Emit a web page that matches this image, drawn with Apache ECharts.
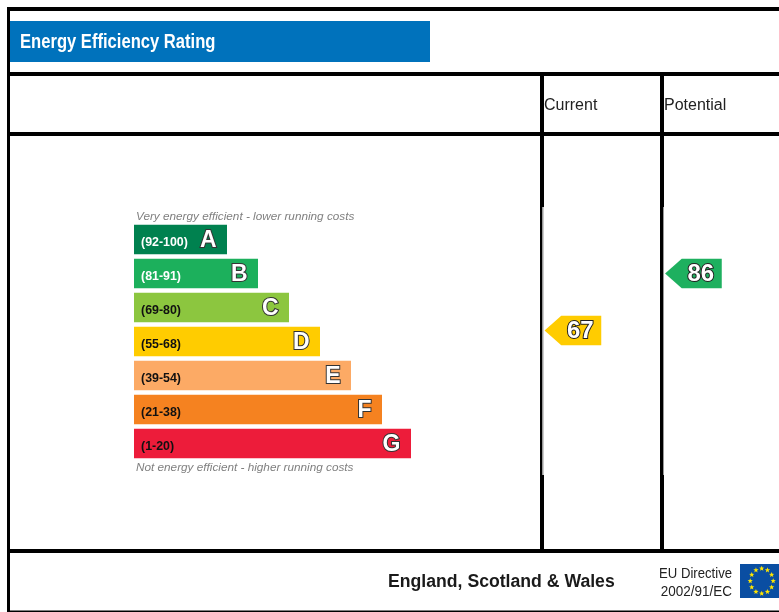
<!DOCTYPE html>
<html>
<head>
<meta charset="utf-8">
<title>Energy Efficiency Rating</title>
<script src="https://cdn.jsdelivr.net/npm/echarts@6/dist/echarts.min.js"></script>
<style>
html, body { margin: 0; padding: 0; background: #fff; }
#main { width: 779px; height: 612px; }
</style>
</head>
<body>
<div id="main"></div>
<script>
// rating bands, top to bottom
var bandRanges = ['(92-100)', '(81-91)', '(69-80)', '(55-68)', '(39-54)', '(21-38)', '(1-20)'];
var bandLetters = ['A', 'B', 'C', 'D', 'E', 'F', 'G'];
var bandLengths = [93, 124, 155, 186, 217, 248, 277];
var columns = ['Current', 'Potential'];
var ratings = [67, 86];

var bandColors = ['#00814f', '#1cb05c', '#8cc63f', '#ffcc00', '#fcaa65', '#f58220', '#ed1c3a'];
var rangeColors = ['#fff', '#fff', '#111', '#111', '#111', '#111', '#111'];
var ratingColors = ['#ffcc00', '#1eb05f'];

var FONT = '"Liberation Sans", Arial, sans-serif';

function line(x, y, w, h, color) {
  return { type: 'rect', shape: { x: x, y: y, width: w, height: h }, style: { fill: color || '#000' }, silent: true };
}
function label(text, x, y, font, color, align, sx) {
  return {
    type: 'text', x: x, y: y, scaleX: sx || 1, silent: true,
    style: { text: text, font: font, fill: color || '#222', textAlign: align || 'left', textVerticalAlign: 'middle' }
  };
}
function star(cx, cy, r) {
  var pts = [];
  for (var i = 0; i < 10; i++) {
    var a = -Math.PI / 2 + i * Math.PI / 5;
    var rr = i % 2 ? r * 0.42 : r;
    pts.push([cx + rr * Math.cos(a), cy + rr * Math.sin(a)]);
  }
  return { type: 'polygon', shape: { points: pts }, style: { fill: '#ffe600' }, silent: true };
}

var frame = [
  line(7, 7, 772, 4),
  line(7, 7, 3, 605),
  line(7, 72, 772, 4),
  line(7, 132, 772, 4),
  line(7, 549, 772, 4),
  line(10, 610.5, 769, 1.5),
  // column rules, thinner in the middle part
  line(540, 76, 4, 131),
  line(660, 76, 4, 131),
  line(540, 207, 2, 268),
  line(542, 207, 1.5, 268, '#999'),
  line(660, 207, 3, 268),
  line(663, 207, 1, 268, '#999'),
  line(540, 475, 4, 74),
  line(660, 475, 4, 74),
  // header
  line(10, 21, 420, 41, '#0072bc'),
  label('Energy Efficiency Rating', 20, 42, 'bold 21px ' + FONT, '#fff', 'left', 0.79),
  label('Current', 544, 105.5, '16px ' + FONT),
  label('Potential', 664, 105.5, '16px ' + FONT),
  label('Very energy efficient - lower running costs', 136, 216.5, 'italic 11.75px ' + FONT, '#808080'),
  label('Not energy efficient - higher running costs', 136, 467.5, 'italic 11.75px ' + FONT, '#808080'),
  // footer
  label('England, Scotland & Wales', 388, 582.5, 'bold 18px ' + FONT, '#1a1a1a', 'left', 0.98),
  label('EU Directive', 732, 574, '15px ' + FONT, '#222', 'right', 0.875),
  label('2002/91/EC', 732, 592, '15px ' + FONT, '#222', 'right', 0.9),
  line(740, 564, 39, 34, '#0a4ea2')
];
for (var s = 0; s < 12; s++) {
  var ang = s * Math.PI / 6;
  frame.push(star(761.7 + 11.5 * Math.sin(ang), 581 - 12.5 * Math.cos(ang), 2.8));
}

var chart = echarts.init(document.getElementById('main'));
var option = {
  animation: false,
  backgroundColor: '#fff',
  graphic: { elements: frame },
  grid: [
    { left: 134, top: 222.5, width: 277, height: 238 },
    { left: 603.25, top: 231.5, width: 120.5, height: 300 }
  ],
  xAxis: [
    { type: 'value', gridIndex: 0, min: 0, max: 277, show: false },
    { type: 'category', gridIndex: 1, data: columns, boundaryGap: false, show: false }
  ],
  yAxis: [
    { type: 'category', gridIndex: 0, data: bandLetters, inverse: true, show: false },
    { type: 'value', gridIndex: 1, min: 0, max: 100, show: false }
  ],
  series: [
    {
      // coloured bars with the score range
      type: 'bar',
      xAxisIndex: 0, yAxisIndex: 0,
      barWidth: 29.5,
      silent: true,
      data: bandLengths.map(function (v, i) {
        return {
          value: v,
          itemStyle: { color: bandColors[i] },
          label: { formatter: bandRanges[i], color: rangeColors[i] }
        };
      }),
      label: {
        show: true, position: 'insideLeft', distance: 7, offset: [0, 3],
        fontFamily: FONT, fontWeight: 'bold', fontSize: 12.4
      }
    },
    {
      // same lengths, only carries the outlined letters
      type: 'bar',
      xAxisIndex: 0, yAxisIndex: 0,
      barWidth: 29.5,
      barGap: '-100%',
      silent: true,
      itemStyle: { color: 'transparent' },
      data: bandLengths.map(function (v, i) {
        return { value: v, label: { formatter: bandLetters[i] } };
      }),
      label: {
        show: true, position: 'insideRight', distance: 10.5, offset: [0, 1.5],
        fontFamily: FONT, fontWeight: 'bold', fontSize: 23,
        color: '#fff', textBorderColor: '#333', textBorderWidth: 2
      }
    },
    {
      // rating arrows, height comes from the score
      type: 'custom',
      xAxisIndex: 1, yAxisIndex: 1,
      silent: true,
      data: ratings.map(function (v, i) { return [i, v]; }),
      renderItem: function (params, api) {
        var p = api.coord([api.value(0), api.value(1)]);
        var x = p[0], y = p[1];
        return {
          type: 'group',
          children: [
            {
              type: 'polygon',
              shape: { points: [[x - 58.7, y], [x - 42, y - 14.7], [x - 2, y - 14.7], [x - 2, y + 14.7], [x - 42, y + 14.7]] },
              style: { fill: ratingColors[params.dataIndex] }
            },
            {
              type: 'text',
              x: x - 23, y: y + 0.5,
              style: {
                text: String(api.value(1)),
                font: 'bold 24px ' + FONT,
                fill: '#fff', stroke: '#222', lineWidth: 2,
                textAlign: 'center', textVerticalAlign: 'middle'
              }
            }
          ]
        };
      }
    }
  ]
};
chart.setOption(option);
</script>
</body>
</html>
